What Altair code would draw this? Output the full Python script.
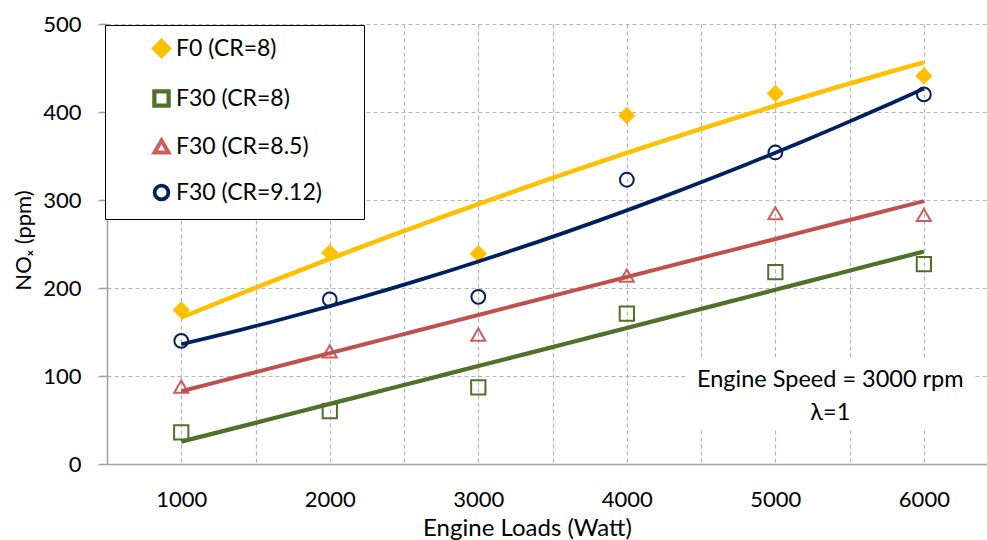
import altair as alt
import pandas as pd

# ---- data ----
loads = [1000, 2000, 3000, 4000, 5000, 6000]
series_names = ["F0 (CR=8)", "F30 (CR=8)", "F30 (CR=8.5)", "F30 (CR=9.12)"]
nox_f0_cr8 = [175, 240, 239, 396, 421, 441]
nox_f30_cr8 = [36, 60, 87, 171, 218, 227]
nox_f30_cr85 = [88, 128, 147, 214, 285, 283]
nox_f30_cr912 = [140, 187, 190, 323, 354, 420]

x_label_values = [1000, 2000, 3000, 4000, 5000, 6000]
x_grid_values = [1000, 1500, 2000, 2500, 3000, 3500, 4000, 4500, 5000, 5500, 6000]
y_tick_values = [0, 100, 200, 300, 400, 500]

note_lines = ["Engine Speed = 3000 rpm", "λ=1"]
note_pos = {"x": [5370], "y": [87.5]}
note_box = {"x": [4405], "x2": [6333], "y": [39], "y2": [121.5]}

# ---- styles ----
line_colors = ["#FFC000", "#4F7129", "#C0504D", "#002060"]
line_widths = [4.5, 3.75, 3.0, 2.5]
marker_strokes = ["#FFC000", "#4F7129", "#CC5F5C", "#002060"]
marker_fills = ["#FFC000", "#FFFFFF00", "#FFFFFF00", "#FFFFFF00"]
marker_shapes = ["diamond", "square", "triangle-up", "circle"]
marker_sizes = [210, 190, 290, 240]
FONT = "Lato"

rows = []
for name, vals in zip(series_names,
                      [nox_f0_cr8, nox_f30_cr8, nox_f30_cr85, nox_f30_cr912]):
    for l, v in zip(loads, vals):
        rows.append({"load": l, "nox": v, "series": name})
df = pd.DataFrame(rows)

x_scale = alt.Scale(domain=[500, 6425], nice=False, zero=False)
y_scale = alt.Scale(domain=[0, 500], nice=False)

x_axis = alt.Axis(
    values=x_grid_values,
    labelExpr="datum.value % 1000 === 0 ? datum.label : ''",
    format="d",
    title="Engine Loads (Watt)",
    ticks=False, tickSize=0,
    labelPadding=25,
    labelFont=FONT, labelFontSize=22, labelColor="#000000",
    titleFont=FONT, titleFontSize=24, titleFontWeight="normal", titleColor="#000000",
    titleX=420, titleY=71, titleBaseline="alphabetic", titleAlign="center",
    grid=True, gridDash=[4, 3], gridColor="#B4B4B4", gridWidth=1.2,
    domainColor="#A0A0A0", domainWidth=1.5,
)
y_axis = alt.Axis(
    values=y_tick_values,
    title="NOₓ (ppm)",
    ticks=True, tickSize=9, tickColor="#A0A0A0", tickWidth=1.5,
    labelPadding=17,
    labelFont=FONT, labelFontSize=22, labelColor="#000000",
    titleFont=FONT, titleFontSize=22, titleFontWeight="normal", titleColor="#000000",
    titleX=-84, titleY=216, titleAngle=270, titleBaseline="middle", titleAlign="center",
    grid=True, gridDash=[4, 3], gridColor="#B4B4B4", gridWidth=1.2,
    domainColor="#A0A0A0", domainWidth=1.5,
)

def make_legend():
    # an invisible spacer title on the right widens the legend box like the reference
    return alt.Legend(
        title="W", titleOrient="right", titleOpacity=0, titleFontSize=20,
        titlePadding=8, titleFont=FONT,
        orient="none", legendX=-2, legendY=1,
        padding=12, symbolOffset=33, labelOffset=3, rowPadding=17,
        strokeColor="#000000", fillColor="#FFFFFF",
        labelFont=FONT, labelFontSize=23, labelColor="#000000", labelLimit=400,
        symbolStrokeWidth=1.75, symbolOpacity=1,
    )

base = alt.Chart(df)

points = base.mark_point(opacity=1, strokeWidth=2).encode(
    x=alt.X("load:Q", scale=x_scale, axis=x_axis),
    y=alt.Y("nox:Q", scale=y_scale, axis=y_axis),
    shape=alt.Shape("series:N", scale=alt.Scale(domain=series_names, range=marker_shapes), legend=make_legend()),
    fill=alt.Fill("series:N", scale=alt.Scale(domain=series_names, range=marker_fills), legend=make_legend()),
    stroke=alt.Stroke("series:N", scale=alt.Scale(domain=series_names, range=marker_strokes), legend=make_legend()),
    size=alt.Size("series:N", scale=alt.Scale(domain=series_names, range=marker_sizes), legend=make_legend()),
)

trend = base.transform_regression(
    "load", "nox", groupby=["series"], method="poly", order=2
).mark_line().encode(
    x=alt.X("load:Q", scale=x_scale),
    y=alt.Y("nox:Q", scale=y_scale),
    color=alt.Color("series:N", scale=alt.Scale(domain=series_names, range=line_colors), legend=None),
    strokeWidth=alt.StrokeWidth("series:N", scale=alt.Scale(domain=series_names, range=line_widths), legend=None),
    detail="series:N",
)

box = alt.Chart(pd.DataFrame(note_box)).mark_rect(color="white").encode(
    x=alt.X("x:Q", scale=x_scale), x2="x2:Q",
    y=alt.Y("y:Q", scale=y_scale), y2="y2:Q",
)

note = alt.Chart(pd.DataFrame(note_pos)).mark_text(
    text=note_lines, font=FONT, fontSize=23.5, color="#000000",
    align="center", baseline="alphabetic", lineHeight=33,
).encode(
    x=alt.X("x:Q", scale=x_scale),
    y=alt.Y("y:Q", scale=y_scale),
)

chart = alt.layer(box, note, points, trend).properties(
    width=880, height=440,
    autosize=alt.AutoSizeParams(type="none"),
    padding={"left": 107, "top": 24, "right": 0, "bottom": 76},
).configure_view(stroke=None)

chart.save("out.html", embed_options={"renderer": "svg", "actions": False})
